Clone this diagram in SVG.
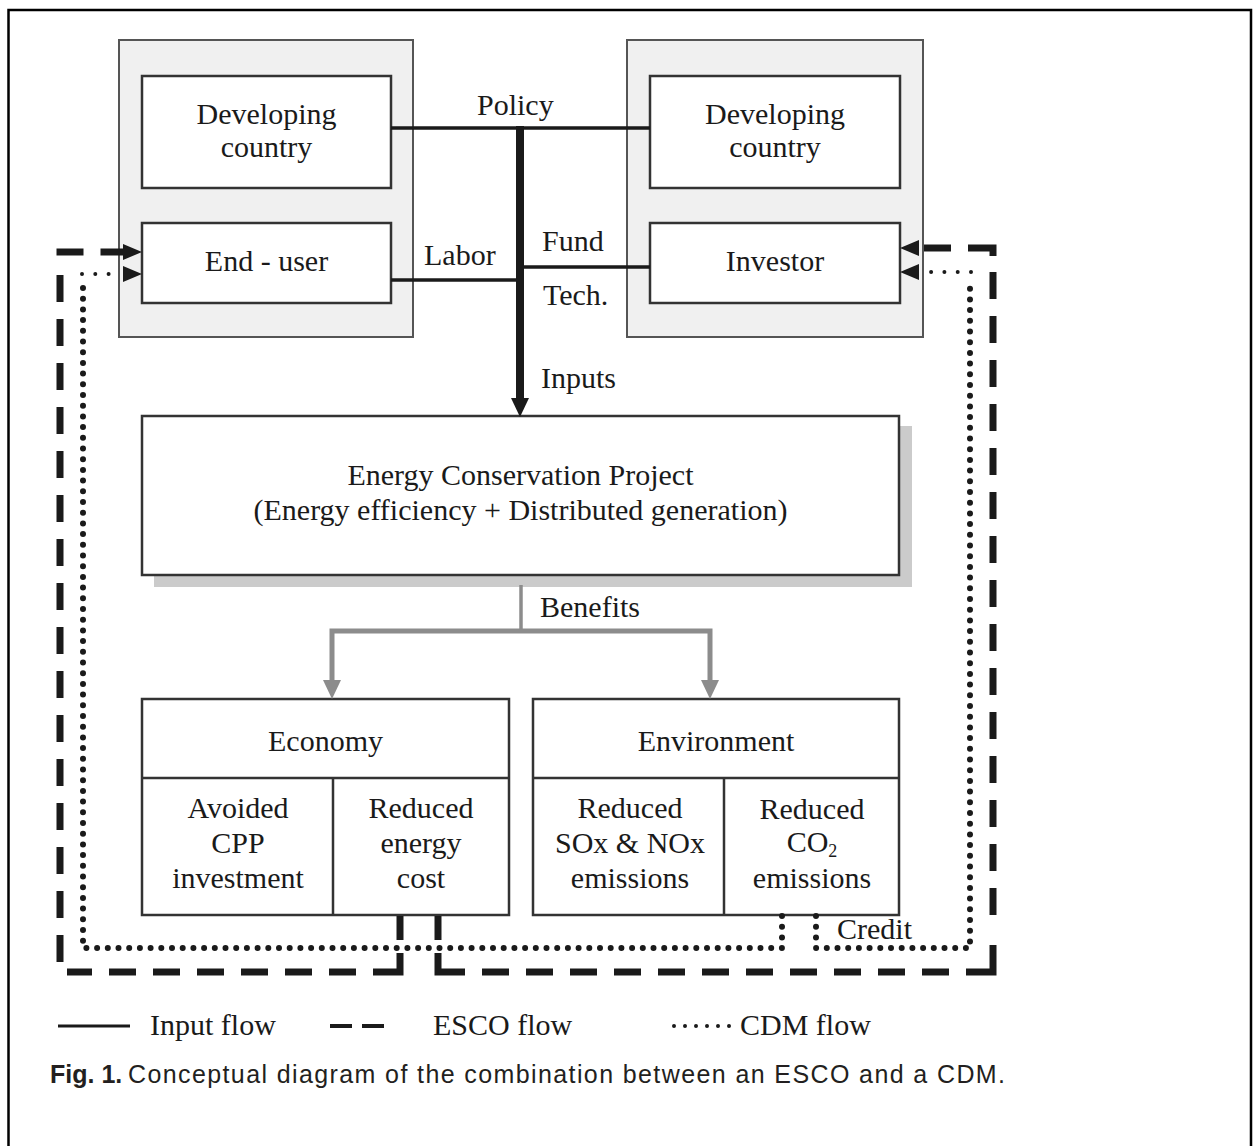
<svg xmlns="http://www.w3.org/2000/svg" width="1257" height="1146" viewBox="0 0 1257 1146">
<style>
.outer{fill:#f0f0f0;stroke:#555;stroke-width:2}
.box{fill:#fff;stroke:#333;stroke-width:2.5}
.t{font-family:"Liberation Serif","Times New Roman",serif;font-size:30px;fill:#1a1a1a}
.c{text-anchor:middle}
.solid{stroke:#1a1a1a;stroke-width:3.5;fill:none}
.thick{stroke:#1a1a1a;stroke-width:8;fill:none}
.esco{stroke:#1a1a1a;stroke-width:7;fill:none;stroke-dasharray:27 17}
.escos{stroke:#1a1a1a;stroke-width:7;fill:none;stroke-linejoin:miter}
.cdm{stroke:#1a1a1a;stroke-width:6;fill:none;stroke-dasharray:0 10.7;stroke-linecap:round}
.cdm2{stroke:#1a1a1a;stroke-width:4;fill:none;stroke-dasharray:0 13.3;stroke-linecap:round}
.gray{stroke:#8c8c8c;fill:none}
.head{fill:#1a1a1a}
.ghead{fill:#8c8c8c}
</style>

<path d="M8.5 1146 V10 H1251 V1146" fill="none" stroke="#000" stroke-width="2.5"/>

<g id="left-party">
<rect class="outer" x="119" y="40" width="294" height="297"/>
<g id="developing-country-left">
<rect class="box" x="142" y="76" width="249" height="112"/>
<text class="t c" x="266.5" y="124">Developing</text>
<text class="t c" x="266.5" y="157">country</text>
</g>
<g id="end-user">
<rect class="box" x="142" y="223" width="249" height="80"/>
<text class="t c" x="266.5" y="271">End - user</text>
</g>
</g>

<g id="right-party">
<rect class="outer" x="627" y="40" width="296" height="297"/>
<g id="developing-country-right">
<rect class="box" x="650" y="76" width="250" height="112"/>
<text class="t c" x="775" y="124">Developing</text>
<text class="t c" x="775" y="157">country</text>
</g>
<g id="investor">
<rect class="box" x="650" y="223" width="250" height="80"/>
<text class="t c" x="775" y="271">Investor</text>
</g>
</g>

<g id="energy-conservation-project">
<rect x="154" y="426" width="758" height="161" fill="#cbcbcb"/>
<rect class="box" x="142" y="416" width="757" height="159"/>
<text class="t c" x="520.5" y="485">Energy Conservation Project</text>
<text class="t c" x="520.5" y="520">(Energy efficiency + Distributed generation)</text>
</g>

<g id="economy">
<rect class="box" x="142" y="699" width="367" height="216"/>
<line x1="142" y1="778" x2="509" y2="778" stroke="#333" stroke-width="2.5"/>
<line x1="333" y1="778" x2="333" y2="915" stroke="#333" stroke-width="2.5"/>
<text class="t c" x="325.5" y="751">Economy</text>
<text class="t c" x="238" y="818">Avoided</text>
<text class="t c" x="238" y="853">CPP</text>
<text class="t c" x="238" y="888">investment</text>
<text class="t c" x="421" y="818">Reduced</text>
<text class="t c" x="421" y="853">energy</text>
<text class="t c" x="421" y="888">cost</text>
</g>

<g id="environment">
<rect class="box" x="533" y="699" width="366" height="216"/>
<line x1="533" y1="778" x2="899" y2="778" stroke="#333" stroke-width="2.5"/>
<line x1="724" y1="778" x2="724" y2="915" stroke="#333" stroke-width="2.5"/>
<text class="t c" x="716" y="751">Environment</text>
<text class="t c" x="630" y="818">Reduced</text>
<text class="t c" x="630" y="853">SOx &amp; NOx</text>
<text class="t c" x="630" y="888">emissions</text>
<text class="t c" x="812" y="819">Reduced</text>
<text class="t c" x="812" y="852">CO<tspan font-size="18" dy="5">2</tspan></text>
<text class="t c" x="812" y="888">emissions</text>
</g>

<g id="connectors">
<path class="solid" d="M391 128 H650"/>
<path class="solid" d="M391 280 H520"/>
<path class="solid" d="M520 267 H650"/>
<path class="thick" d="M520 126 V399"/>
<polygon class="head" points="511,398 529,398 520,417"/>
<path class="gray" stroke-width="3.5" d="M521 585 V631"/>
<path class="gray" stroke-width="5" d="M332 681 V631 H710 V681"/>
<polygon class="ghead" points="323,680 341,680 332,699"/>
<polygon class="ghead" points="701,680 719,680 710,699"/>
<path class="escos" d="M400 916 V940"/>
<path class="escos" d="M400 953 V972 H373"/>
<path class="esco" d="M356 972 H67"/>
<path class="esco" d="M60 962 V265"/>
<path class="esco" d="M56.5 252 H124"/>
<polygon class="head" points="142,252 123,244 123,260"/>
<path class="escos" d="M438 916 V940"/>
<path class="escos" d="M438 953 V972 H465"/>
<path class="esco" d="M949 972 H482"/>
<path class="escos" d="M966 972 H993 V945"/>
<path class="esco" d="M993 272 V928"/>
<path class="escos" d="M968 248 H993 V256"/>
<path class="esco" d="M951 248 H918"/>
<polygon class="head" points="900,248 919,240 919,256"/>
<path class="cdm" d="M782 916 V948 H83 V286"/>
<path class="cdm2" d="M82 274 H115"/>
<polygon class="head" points="142,274 123,266 123,282"/>
<path class="cdm" d="M816 916 V948 H970 V286"/>
<path class="cdm2" d="M971 272 H925"/>
<polygon class="head" points="900,272 919,264 919,280"/>
</g>

<g id="labels">
<text class="t" x="477" y="115">Policy</text>
<text class="t" x="424" y="265">Labor</text>
<text class="t" x="542" y="251">Fund</text>
<text class="t" x="543" y="305">Tech.</text>
<text class="t" x="541" y="388">Inputs</text>
<text class="t" x="540" y="617">Benefits</text>
<text class="t" x="837" y="939">Credit</text>
</g>

<g id="legend">
<line x1="58" y1="1026" x2="130" y2="1026" stroke="#1a1a1a" stroke-width="3"/>
<text class="t" x="150" y="1035">Input flow</text>
<line x1="330" y1="1026" x2="352" y2="1026" stroke="#1a1a1a" stroke-width="4"/>
<line x1="362" y1="1026" x2="384" y2="1026" stroke="#1a1a1a" stroke-width="4"/>
<text class="t" x="433" y="1035">ESCO flow</text>
<path d="M674 1026 H732" stroke="#1a1a1a" stroke-width="4" stroke-dasharray="0 11" stroke-linecap="round"/>
<text class="t" x="740" y="1035">CDM flow</text>
</g>

<g id="caption">
<text x="50" y="1083" font-family="Liberation Sans, Arial, sans-serif" font-size="25" font-weight="bold" fill="#231f20">Fig. 1.</text>
<text x="128" y="1083" font-family="Liberation Sans, Arial, sans-serif" font-size="25" fill="#231f20" textLength="877" lengthAdjust="spacing">Conceptual diagram of the combination between an ESCO and a CDM.</text>
</g>
</svg>
